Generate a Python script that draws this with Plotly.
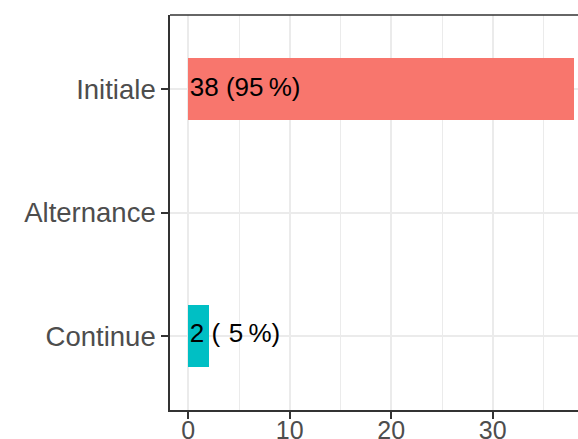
import plotly.graph_objects as go

categories = ["Continue", "Alternance", "Initiale"]
counts = [2, 0, 38]
percents = [5, 0, 95]
colors = ["#00BFC4", "#7CAE00", "#F8766D"]
x_ticks = [0, 10, 20, 30]

FONT = "Liberation Sans, Arial, sans-serif"


def pct_label(n, p):
    pad = "\u2004" if p < 10 else ""
    return "%d (%s%d\u202f%%)" % (n, pad, p)


fig = go.Figure()
for cat, n, col in zip(categories, counts, colors):
    fig.add_trace(go.Bar(
        y=[cat], x=[n], orientation="h", width=0.5,
        marker=dict(color=col, line=dict(width=0)),
        showlegend=False, hoverinfo="skip",
    ))

lab_y = [c for c, n in zip(categories, counts) if n > 0]
lab_t = [pct_label(n, p) for n, p in zip(counts, percents) if n > 0]
fig.add_trace(go.Scatter(
    y=lab_y, x=[0.15] * len(lab_y), mode="text", text=lab_t,
    textposition="middle right",
    textfont=dict(family=FONT, size=26, color="black"),
    showlegend=False, hoverinfo="skip",
))

fig.update_layout(
    width=578, height=439,
    margin=dict(l=170, r=0, t=15, b=29),
    paper_bgcolor="white", plot_bgcolor="white",
    font=dict(family=FONT),
    bargap=0,
    xaxis=dict(
        range=[-1.8, 38.4], tickvals=x_ticks, ticktext=[str(v) for v in x_ticks],
        showgrid=True, gridcolor="#EBEBEB", gridwidth=1.6,
        minor=dict(dtick=5, tick0=0, showgrid=True, gridcolor="#EBEBEB", gridwidth=0.8, ticks=""),
        showline=True, linecolor="#333333", linewidth=1.6,
        ticks="outside", ticklen=7, tickwidth=1.6, tickcolor="#333333",
        tickfont=dict(family=FONT, size=25, color="#4D4D4D"),
        ticklabelstandoff=-10,
        zeroline=False, fixedrange=True, automargin=False,
    ),
    yaxis=dict(
        type="category", categoryorder="array", categoryarray=categories,
        range=[-0.6, 2.6],
        showgrid=True, gridcolor="#EBEBEB", gridwidth=1.6,
        showline=True, linecolor="#333333", linewidth=1.6,
        ticks="outside", ticklen=7, tickwidth=1.6, tickcolor="#333333",
        tickfont=dict(family=FONT, size=27.5, color="#4D4D4D"),
        zeroline=False, fixedrange=True, automargin=False,
    ),
    shapes=[dict(type="line", xref="paper", yref="paper", x0=0, x1=1, y0=1, y1=1,
                 line=dict(color="#333333", width=1.6))],
)

fig.write_html(
    "out.html",
    config={"displayModeBar": False},
    post_script="document.body.style.margin='0';document.body.style.overflow='hidden';",
)
